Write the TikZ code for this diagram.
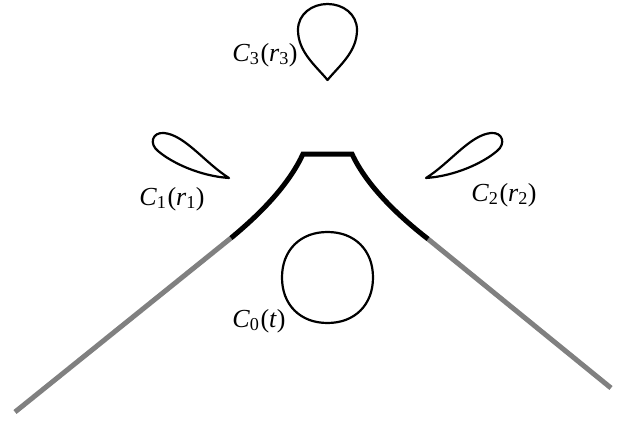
\documentclass[tikz,border=0pt]{standalone}
\usepackage{fontspec}
\setmainfont{Liberation Serif}
\begin{document}
\begin{tikzpicture}[x=1pt,y=-1pt,
  outline/.style={line width=2.2pt,line join=round},
  bold/.style={line width=5pt,line join=miter},
  grayline/.style={line width=5pt,color=black!50,line cap=butt},
  lab/.style={font=\fontsize{26}{30}\selectfont,inner sep=0pt}]
\useasboundingbox (0,0) rectangle (624,423);
% C3 teardrop
\draw[outline] (327.5,80) .. controls (316,66) and (298,52) .. (298,30)
  .. controls (298,14) and (312,4) .. (327.5,4)
  .. controls (343,4) and (357,14) .. (357,30)
  .. controls (357,52) and (339,66) .. (327.5,80) -- cycle;
% C1 leaf
\draw[outline] (229,178) .. controls (205,163) and (185,135) .. (164,133)
  .. controls (152,132) and (149,144) .. (158,151)
  .. controls (172,163) and (200,176) .. (229,178) -- cycle;
% C2 leaf (mirror)
\begin{scope}[shift={(655,0)},xscale=-1]
\draw[outline] (229,178) .. controls (205,163) and (185,135) .. (164,133)
  .. controls (152,132) and (149,144) .. (158,151)
  .. controls (172,163) and (200,176) .. (229,178) -- cycle;
\end{scope}
% C0
\draw[outline] (327.5,232) .. controls (354.8,232) and (373,250.2) .. (373,277.5)
  .. controls (373,304.8) and (354.8,323) .. (327.5,323)
  .. controls (300.2,323) and (282,304.8) .. (282,277.5)
  .. controls (282,250.2) and (300.2,232) .. (327.5,232) -- cycle;
% gray lines
\coordinate (la) at (15,412);
\coordinate (lb) at (231,238);
\coordinate (ra) at (428,239);
\coordinate (rb) at (611,388);
\draw[grayline] (la) -- (lb);
\draw[grayline] (ra) -- (rb);
% black curve
\draw[bold] (lb) .. controls (265,210) and (290,182) .. (303,154) -- (352,154)
  .. controls (365,182) and (392,211) .. (ra);
% labels
\node[lab] (l3) at (265,55) {\textit{C}\textsubscript{3}\kern1pt(\textit{r}\textsubscript{3})};
\node[lab] (l1) at (172,199) {\textit{C}\textsubscript{1}\kern1pt(\textit{r}\textsubscript{1})};
\node[lab] (l2) at (504,195) {\textit{C}\textsubscript{2}\kern1pt(\textit{r}\textsubscript{2})};
\node[lab] (l0) at (259,321) {\textit{C}\textsubscript{0}\kern1pt(\textit{t})};
\end{tikzpicture}
\end{document}
